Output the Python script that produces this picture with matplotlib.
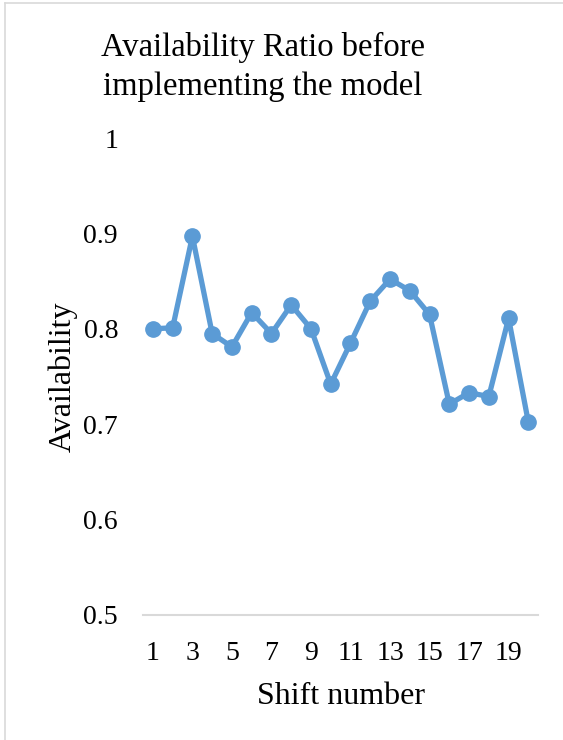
import matplotlib
matplotlib.use("Agg")
import matplotlib.pyplot as plt
from matplotlib.lines import Line2D

shifts = list(range(1, 21))
availability = [0.800, 0.801, 0.897, 0.795, 0.781, 0.817, 0.795, 0.825, 0.800, 0.742,
                0.785, 0.829, 0.852, 0.840, 0.815, 0.721, 0.733, 0.729, 0.811, 0.702]
x_tick_labels = [str(s) for s in shifts[::2]]
y_ticks = [0.5, 0.6, 0.7, 0.8, 0.9, 1]
y_tick_labels = ['0.5', '0.6', '0.7', '0.8', '0.9', '1']

plt.rcParams['font.family'] = ['Liberation Serif', 'DejaVu Serif']

fig = plt.figure(figsize=(5.63, 7.4), dpi=100)
# chart area border (only left and top edges show in the crop)
fig.add_artist(Line2D([0.009, 0.009], [0.0, 0.996], transform=fig.transFigure,
                      color='#D9D9D9', linewidth=1.2))
fig.add_artist(Line2D([0.009, 1.0], [0.996, 0.996], transform=fig.transFigure,
                      color='#D9D9D9', linewidth=1.2))

ax = fig.add_axes([0.254, 0.169, 0.702, 0.6445])
ax.plot(shifts, availability, color='#5B9BD5', linewidth=3.8, marker='o', markersize=11,
        solid_capstyle='round', solid_joinstyle='round')

ax.set_xlim(0.5, 20.5)
ax.set_ylim(0.5, 1.0)
ax.set_xticks(shifts[::2])
ax.set_xticklabels(x_tick_labels)
ax.set_yticks(y_ticks)
ax.set_yticklabels(y_tick_labels)
ax.tick_params(length=0, labelsize=20, colors='black')
ax.tick_params(axis='x', pad=19)
ax.tick_params(axis='y', pad=18)

for side in ['top', 'right', 'left']:
    ax.spines[side].set_visible(False)
ax.spines['bottom'].set_color('#D9D9D9')
ax.spines['bottom'].set_linewidth(1.5)

fig.text(0.467, 0.9243, 'Availability Ratio before', fontsize=23.5, ha='center', va='baseline')
fig.text(0.467, 0.8716, 'implementing the model', fontsize=23.5, ha='center', va='baseline')
ax.set_xlabel('Shift number', fontsize=23, labelpad=11)
ax.set_ylabel('Availability', fontsize=23, labelpad=4)

fig.savefig('out.png', dpi=100)
